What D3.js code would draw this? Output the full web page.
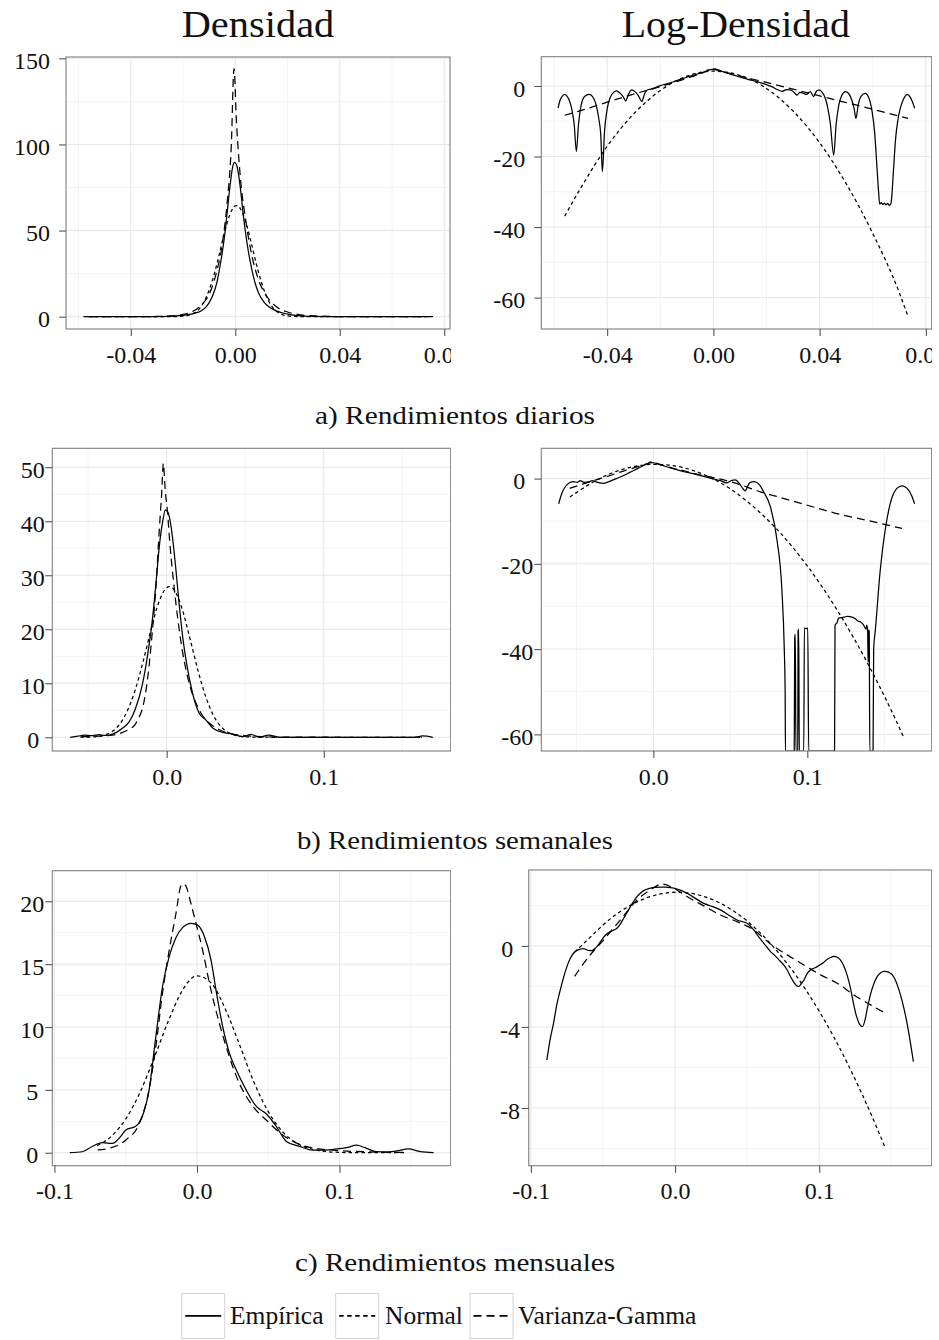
<!DOCTYPE html>
<html>
<head>
<meta charset="utf-8">
<script src="https://cdn.jsdelivr.net/npm/d3@7"></script>
<style>
  body { margin: 0; background: #fff; }
  svg { display: block; }
  text { font-family: "Liberation Serif", "Times New Roman", serif; fill: #111; }
</style>
</head>
<body>
<svg id="chart" width="939" height="1340"></svg>
<script>
/*
 * Densidad / Log-Densidad de rendimientos (diarios, semanales, mensuales)
 * Empírica vs Normal vs Varianza-Gamma
 */

//-------------------------------
// Data: [x, y] pairs

// a) diarios - densidad
var diarioDensEmp = [[-0.0581,0],[-0.05,0],[-0.04,0.02],[-0.03,0.1],[-0.024,0.35],[-0.02,0.8],[-0.016,1.8],[-0.013,3.5],[-0.011,6],[-0.009,11],[-0.007,20],[-0.006,28],[-0.005,37],[-0.004,48],[-0.003,62],[-0.002,76],[-0.001,87],[-0.0004,89.6],[0.0004,88.5],[0.0012,83],[0.002,74],[0.003,60],[0.004,48],[0.005,38],[0.006,30],[0.007,23],[0.008,17.5],[0.009,13.5],[0.011,8.5],[0.013,5.6],[0.016,3.2],[0.02,1.5],[0.025,0.5],[0.03,0.2],[0.04,0.05],[0.05,0.02],[0.06,0.01],[0.0757,0]];
var diarioDensNorm = [[-0.056,0],[-0.03,0],[-0.024,0.03],[-0.02,0.28],[-0.018,0.8],[-0.016,1.9],[-0.014,4.1],[-0.012,8.5],[-0.01,15.5],[-0.008,25],[-0.006,37],[-0.004,49.6],[-0.002,59.5],[0,64.3],[0.001,64.5],[0.002,62.5],[0.004,55],[0.006,43.5],[0.008,31],[0.01,20],[0.012,11.6],[0.014,6],[0.016,2.8],[0.018,1.2],[0.02,0.46],[0.024,0.05],[0.03,0],[0.0733,0]];
var diarioDensVG = [[-0.056,0],[-0.04,0.01],[-0.03,0.12],[-0.025,0.4],[-0.02,1.3],[-0.017,2.6],[-0.015,4.2],[-0.0125,7.5],[-0.01,13],[-0.0075,24],[-0.005,42],[-0.003,68],[-0.0015,100],[-0.0005,144],[0.0005,112],[0.002,80],[0.004,56],[0.006,38],[0.009,21],[0.012,12],[0.016,5.5],[0.02,2.7],[0.025,1.1],[0.03,0.45],[0.04,0.08],[0.05,0.01],[0.0733,0]];

// a) diarios - log-densidad
var diarioLogEmp = [[-0.0585,-6.3],[-0.0578,-4.2],[-0.0568,-2.8],[-0.056,-2.4],[-0.0552,-2.8],[-0.0542,-4.2],[-0.0532,-7],[-0.0524,-11],[-0.0516,-18.6],[-0.0508,-11],[-0.0498,-5.5],[-0.0485,-3.0],[-0.0468,-2.4],[-0.0455,-3.0],[-0.0443,-5.0],[-0.0432,-9],[-0.0424,-14],[-0.0418,-24.3],[-0.041,-13],[-0.04,-6.5],[-0.0388,-3.2],[-0.0376,-1.8],[-0.0365,-1.4],[-0.0352,-2.0],[-0.034,-3.0],[-0.033,-4.2],[-0.032,-2.4],[-0.0308,-1.1],[-0.0295,-1.6],[-0.0282,-2.8],[-0.027,-4.4],[-0.0258,-2.0],[-0.0245,-1.0],[-0.0235,-0.9],[-0.022,-0.5],[-0.02,0.1],[-0.018,0.5],[-0.015,1.2],[-0.012,2.0],[-0.009,2.7],[-0.006,3.4],[-0.003,4.1],[-0.0005,4.7],[0.002,4.4],[0.005,3.7],[0.008,3.0],[0.011,2.3],[0.014,1.7],[0.017,1.1],[0.02,0.4],[0.022,-0.2],[0.024,-1.0],[0.026,-1.5],[0.0275,-1.0],[0.029,-1.1],[0.0305,-1.9],[0.0315,-2.6],[0.0325,-1.8],[0.034,-2.1],[0.035,-2.4],[0.0365,-1.6],[0.0377,-3.0],[0.0388,-1.5],[0.0398,-1.1],[0.041,-1.8],[0.042,-3.2],[0.043,-6],[0.044,-10.5],[0.0453,-19.6],[0.0462,-11],[0.0472,-5.5],[0.0484,-2.6],[0.0497,-1.6],[0.051,-2.2],[0.0522,-4.2],[0.053,-6.5],[0.0537,-9.2],[0.0545,-5.5],[0.0557,-2.8],[0.0572,-2.1],[0.0585,-3.3],[0.0597,-7],[0.0607,-13],[0.0615,-22],[0.0622,-30],[0.0626,-33.5],[0.0632,-33.1],[0.0638,-33.6],[0.0644,-33.2],[0.065,-33.7],[0.0656,-33.3],[0.0662,-33.8],[0.0668,-33.5],[0.0672,-31],[0.0678,-24],[0.0686,-15],[0.0695,-9.5],[0.0705,-6],[0.0718,-3.4],[0.073,-2.4],[0.0742,-3.3],[0.075,-4.6],[0.0758,-6.3]];
var diarioLogNorm = [[-0.056,-36.9],[-0.05,-29],[-0.04,-17.1],[-0.03,-7.9],[-0.02,-1.3],[-0.01,2.8],[0,4.2],[0.01,3.0],[0.02,-0.7],[0.03,-7.1],[0.04,-16.1],[0.05,-27.7],[0.06,-41.8],[0.07,-58.6],[0.0733,-65.4]];
var diarioLogVG = [[-0.056,-8.3],[-0.05,-7.0],[-0.04,-4.6],[-0.03,-2.3],[-0.02,-0.2],[-0.01,2.2],[-0.004,3.7],[-0.0005,4.95],[0.004,4.0],[0.01,2.8],[0.02,1.0],[0.03,-0.9],[0.04,-2.8],[0.05,-4.7],[0.06,-6.6],[0.0733,-9.2]];

// b) semanales - densidad
var semanalDensEmp = [[-0.0614,0],[-0.0565,0.2],[-0.0524,0.4],[-0.048,0.3],[-0.0429,0.5],[-0.04,0.35],[-0.0365,0.4],[-0.032,0.9],[-0.028,1.7],[-0.0238,2.9],[-0.02,5.2],[-0.0153,10],[-0.012,15.5],[-0.0089,22.3],[-0.0065,29.5],[-0.0047,35.3],[-0.0025,40],[-0.0008,42.1],[0.001,41.5],[0.0028,39],[0.0045,35],[0.0059,31],[0.008,24.5],[0.0102,18.6],[0.0128,13.5],[0.0155,9.4],[0.018,6.5],[0.0208,4.4],[0.025,3.2],[0.0293,1.7],[0.0357,0.9],[0.042,0.6],[0.0484,0.1],[0.0537,0.55],[0.059,0.02],[0.065,0.4],[0.0718,0],[0.1,0],[0.158,0],[0.163,0.25],[0.1694,0]];
var semanalDensNorm = [[-0.055,0.03],[-0.05,0.04],[-0.045,0.13],[-0.04,0.39],[-0.035,1.0],[-0.03,2.38],[-0.025,4.9],[-0.02,8.8],[-0.015,14],[-0.01,19.9],[-0.005,25],[0,27.7],[0.0017,27.9],[0.005,27.2],[0.01,23.6],[0.015,18.1],[0.02,12.3],[0.025,7.4],[0.03,3.9],[0.035,1.85],[0.04,0.77],[0.05,0.09],[0.06,0.01],[0.08,0],[0.1626,0]];
var semanalDensVG = [[-0.0543,0.1],[-0.048,0.13],[-0.043,0.2],[-0.038,0.3],[-0.032,0.55],[-0.028,0.9],[-0.0238,1.5],[-0.02,2.4],[-0.0174,3.8],[-0.015,5.8],[-0.013,9],[-0.011,13.8],[-0.009,20],[-0.0068,27.9],[-0.0047,38.4],[-0.0032,45],[-0.0021,50.7],[-0.001,46],[0.0006,41.5],[0.002,36],[0.0038,30.4],[0.006,24.5],[0.008,19.9],[0.01,16],[0.0123,12.5],[0.015,9.3],[0.0187,6.3],[0.022,4.4],[0.025,3.2],[0.03,2],[0.0335,1.4],[0.042,0.6],[0.05,0.3],[0.06,0.12],[0.07,0.05],[0.09,0.01],[0.1615,0]];

// b) semanales - log-densidad (-Infinity = log(0), drawn at the panel bottom)
var semanalLogEmp = [[-0.0615,-5.9],[-0.0595,-3.5],[-0.057,-1.8],[-0.0545,-1.0],[-0.052,-0.7],[-0.0495,-0.9],[-0.0474,-0.5],[-0.045,-0.9],[-0.042,-0.8],[-0.0398,-0.5],[-0.0377,-0.7],[-0.035,-1.0],[-0.0323,-1.1],[-0.028,-0.6],[-0.024,0.0],[-0.02,0.6],[-0.015,1.5],[-0.01,2.4],[-0.005,3.3],[-0.0009,3.75],[0.005,3.2],[0.01,2.6],[0.015,2.1],[0.02,1.6],[0.025,1.2],[0.0327,0.5],[0.038,0.0],[0.0435,-0.5],[0.0475,-1.0],[0.0505,-0.5],[0.0532,-0.3],[0.0555,-1.0],[0.0585,-2.5],[0.0597,-2.9],[0.061,-2.0],[0.0625,-1.0],[0.0655,-0.7],[0.069,-1.5],[0.0716,-3.1],[0.076,-6.6],[0.0803,-14.4],[0.0835,-26.2],[0.085,-39.5],[0.0856,-50],[0.0858,-Infinity],[0.0915,-Infinity],[0.0918,-37.5],[0.0922,-36.5],[0.0926,-Infinity],[0.0938,-Infinity],[0.094,-35.8],[0.0944,-35.4],[0.0948,-Infinity],[0.0977,-Infinity],[0.0981,-35],[0.0992,-35.2],[0.1003,-35.1],[0.1009,-Infinity],[0.1177,-Infinity],[0.118,-34.4],[0.1193,-33.8],[0.1203,-32.8],[0.1222,-32.6],[0.124,-32.5],[0.126,-32.3],[0.128,-32.4],[0.131,-32.8],[0.1328,-33.4],[0.1344,-33.6],[0.1365,-34.3],[0.1381,-35.3],[0.1387,-34.4],[0.1392,-36],[0.1395,-43],[0.1398,-35.5],[0.1402,-35.8],[0.1406,-Infinity],[0.1427,-Infinity],[0.1431,-40],[0.1442,-35.5],[0.1474,-21.4],[0.1506,-12],[0.1539,-5.8],[0.1582,-2.3],[0.1615,-1.7],[0.1658,-2.7],[0.168,-4.2],[0.1697,-5.9]];
var semanalLogNorm = [[-0.0543,-4.3],[-0.05,-3.3],[-0.04,-1.0],[-0.03,0.85],[-0.02,2.17],[-0.01,2.99],[0,3.32],[0.01,3.16],[0.02,2.5],[0.03,1.35],[0.04,-0.3],[0.05,-2.4],[0.06,-5.1],[0.07,-8.2],[0.08,-11.8],[0.09,-15.9],[0.1,-20.5],[0.11,-25.6],[0.12,-31.2],[0.13,-37.3],[0.14,-43.9],[0.15,-51],[0.16,-58.6],[0.1626,-60.7]];
var semanalLogVG = [[-0.0543,-2.3],[-0.045,-1.2],[-0.04,-0.6],[-0.03,0.5],[-0.02,1.7],[-0.01,2.8],[-0.004,3.5],[-0.0015,3.9],[0.005,3.2],[0.01,2.7],[0.02,1.8],[0.03,0.9],[0.0457,-0.3],[0.06,-1.9],[0.0695,-3.1],[0.08,-4.2],[0.0976,-6.0],[0.119,-8.2],[0.14,-9.9],[0.1615,-11.7]];

// c) mensuales - densidad
var mensualDensEmp = [[-0.0892,0],[-0.0805,0.08],[-0.0735,0.5],[-0.0664,0.8],[-0.0594,0.74],[-0.0535,1.3],[-0.05,1.8],[-0.043,2.1],[-0.0383,2.9],[-0.0336,5.0],[-0.0289,9.2],[-0.0242,13.2],[-0.0195,15.6],[-0.0148,17.1],[-0.0101,17.9],[-0.0042,18.25],[0.0005,18.1],[0.0052,17.2],[0.0099,15.3],[0.0134,12.9],[0.0181,10.0],[0.0228,7.9],[0.0275,6.6],[0.0345,5.0],[0.0415,3.7],[0.0486,3.1],[0.0556,2.1],[0.0627,0.9],[0.0721,0.5],[0.0815,0.2],[0.0908,0.2],[0.0979,0.3],[0.1049,0.4],[0.112,0.6],[0.1178,0.4],[0.126,0.08],[0.133,0.05],[0.1401,0.15],[0.1484,0.3],[0.1566,0.08],[0.166,0]];
var mensualDensNorm = [[-0.07,0.57],[-0.06,1.32],[-0.05,2.68],[-0.04,4.79],[-0.03,7.56],[-0.02,10.5],[-0.01,12.96],[0,14.07],[0.01,13.49],[0.02,11.4],[0.03,8.55],[0.04,5.6],[0.05,3.27],[0.06,1.68],[0.07,0.76],[0.08,0.3],[0.09,0.1],[0.1,0.03],[0.12,0],[0.146,0]];
var mensualDensVG = [[-0.0697,0.22],[-0.0617,0.35],[-0.05,1.0],[-0.0406,2.3],[-0.0336,5.0],[-0.0289,8.4],[-0.0242,12.7],[-0.0195,16.1],[-0.0148,19.0],[-0.0113,21.2],[-0.0094,21.4],[-0.0077,21.2],[-0.0042,19.8],[-0.0007,18.25],[0.004,16.1],[0.0087,13.5],[0.0157,10.3],[0.0228,7.6],[0.0298,5.5],[0.0392,3.7],[0.0486,2.6],[0.0603,1.4],[0.0721,0.66],[0.0838,0.34],[0.0955,0.2],[0.119,0.08],[0.1468,0.03]];

// c) mensuales - log-densidad
var mensualLogEmp = [[-0.0889,-5.63],[-0.0866,-4.6],[-0.0843,-3.82],[-0.082,-2.9],[-0.0796,-2.17],[-0.0773,-1.55],[-0.075,-1.02],[-0.0727,-0.62],[-0.0704,-0.36],[-0.068,-0.22],[-0.0657,-0.16],[-0.064,-0.13],[-0.0623,-0.16],[-0.06,-0.22],[-0.0576,-0.23],[-0.056,-0.15],[-0.0542,-0.03],[-0.0518,0.2],[-0.0495,0.43],[-0.0472,0.6],[-0.0449,0.71],[-0.0426,0.78],[-0.0403,0.87],[-0.038,1.08],[-0.0356,1.37],[-0.0333,1.65],[-0.031,1.94],[-0.0287,2.2],[-0.0264,2.44],[-0.0241,2.6],[-0.0218,2.73],[-0.0195,2.8],[-0.0171,2.85],[-0.0137,2.89],[-0.0102,2.9],[-0.0067,2.9],[-0.0032,2.88],[0.0014,2.81],[0.0049,2.72],[0.0083,2.6],[0.0141,2.35],[0.0199,2.1],[0.0257,1.95],[0.0315,1.78],[0.0373,1.52],[0.043,1.28],[0.05,1.12],[0.0546,0.79],[0.058,0.45],[0.0616,0.13],[0.0662,-0.28],[0.0696,-0.5],[0.0731,-0.77],[0.0755,-0.95],[0.0778,-1.19],[0.08,-1.5],[0.0824,-1.8],[0.0845,-1.97],[0.0859,-2.0],[0.0876,-1.85],[0.0894,-1.68],[0.0917,-1.35],[0.094,-1.19],[0.0963,-1.1],[0.0986,-1.02],[0.1009,-0.92],[0.1032,-0.8],[0.1056,-0.66],[0.1079,-0.57],[0.1102,-0.52],[0.1125,-0.56],[0.1148,-0.7],[0.1171,-1.0],[0.1194,-1.45],[0.1217,-2.1],[0.1235,-2.75],[0.1252,-3.3],[0.1275,-3.8],[0.1299,-3.98],[0.1316,-3.7],[0.1333,-3.1],[0.1357,-2.35],[0.138,-1.84],[0.1403,-1.5],[0.1426,-1.32],[0.1447,-1.25],[0.1468,-1.27],[0.149,-1.33],[0.1507,-1.43],[0.153,-1.72],[0.1553,-2.17],[0.1576,-2.75],[0.16,-3.49],[0.1626,-4.5],[0.1653,-5.71]];
var mensualLogNorm = [[-0.0697,-0.3],[-0.06,0.35],[-0.05,1.03],[-0.04,1.6],[-0.03,2.04],[-0.02,2.37],[-0.01,2.57],[0,2.65],[0.01,2.61],[0.02,2.44],[0.03,2.16],[0.04,1.75],[0.05,1.23],[0.06,0.58],[0.07,-0.19],[0.08,-1.08],[0.09,-2.09],[0.1,-3.23],[0.11,-4.48],[0.12,-5.86],[0.13,-7.36],[0.14,-8.98],[0.146,-10.0]];
var mensualLogVG = [[-0.0697,-1.5],[-0.0595,-0.5],[-0.0495,0.3],[-0.038,1.28],[-0.0264,2.27],[-0.0171,2.77],[-0.009,3.06],[-0.0009,2.85],[0.0083,2.44],[0.0199,1.98],[0.0315,1.53],[0.043,1.2],[0.0546,0.79],[0.0662,0.1],[0.0778,-0.44],[0.0894,-0.94],[0.1009,-1.43],[0.1125,-1.84],[0.1241,-2.42],[0.1356,-2.91],[0.1468,-3.36]];

// Breaks
var xTicksDiario = [-0.04, 0, 0.04, 0.08];
var xMinorDiario = [-0.06, -0.02, 0.02, 0.06];
var xTicksLargo = [-0.1, 0, 0.1];
var xMinorLargo = [-0.05, 0.05, 0.15];
var xTicksSemanal = [0, 0.1];

var yTicksDiarioDens = [0, 50, 100, 150];
var yMinorDiarioDens = [25, 75, 125];
var yTicksLog60 = [-60, -40, -20, 0];
var yMinorLog60 = [-50, -30, -10];
var yTicksSemanalDens = [0, 10, 20, 30, 40, 50];
var yMinorSemanalDens = [5, 15, 25, 35, 45];
var yTicksMensualDens = [0, 5, 10, 15, 20];
var yMinorMensualDens = [2.5, 7.5, 12.5, 17.5];
var yTicksMensualLog = [-8, -4, 0];
var yMinorMensualLog = [-10, -6, -2, 2];

var titles = ['Densidad', 'Log-Densidad'];
var captions = ['a) Rendimientos diarios', 'b) Rendimientos semanales', 'c) Rendimientos mensuales'];
var seriesNames = ['Empírica', 'Normal', 'Varianza-Gamma'];

//-------------------------------
// Layout / styles

var svg = d3.select('#chart');
var defs = svg.append('defs');
var loc = d3.formatLocale({decimal: '.', thousands: ',', grouping: [3], currency: ['', ''], minus: '-'});

var lineDash = [null, '3.5,3', '8,5'];
var legendDash = [null, '4.5,3.5', '8,5'];

// column clip (tick labels cut at the right edge of each sub figure, as in the original)
defs.append('clipPath').attr('id', 'colL').append('rect').attr('x', 0).attr('y', 0).attr('width', 451).attr('height', 1340);
defs.append('clipPath').attr('id', 'colR').append('rect').attr('x', 470).attr('y', 0).attr('width', 462).attr('height', 1340);

var panels = [
  {key: 'p1', col: 'colL', box: [66, 57, 450, 329], x: [-0.0648, 0.0822], y: [-7.15, 150.76],
    xt: xTicksDiario, xm: xMinorDiario, yt: yTicksDiarioDens, ym: yMinorDiarioDens, xf: '.2f', yOff: [16, 16],
    series: [diarioDensEmp, diarioDensNorm, diarioDensVG]},
  {key: 'p2', col: 'colR', box: [541.3, 56.7, 931.7, 329], x: [-0.0648, 0.0822], y: [-68.9, 8.3],
    xt: xTicksDiario, xm: xMinorDiario, yt: yTicksLog60, ym: yMinorLog60, xf: '.2f', yOff: [16, 16],
    series: [diarioLogEmp, diarioLogNorm, diarioLogVG]},
  {key: 'p3', col: 'colL', box: [52.3, 448.3, 450.7, 751], x: [-0.0728, 0.1808], y: [-2.54, 53.5],
    xt: xTicksSemanal, xm: xMinorLargo, yt: yTicksSemanalDens, ym: yMinorSemanalDens, xf: '.1f', yOff: [13, 7.5],
    series: [semanalDensEmp, semanalDensNorm, semanalDensVG]},
  {key: 'p4', col: 'colR', box: [541.3, 448.3, 931.7, 751], x: [-0.0728, 0.1808], y: [-63.9, 7.1],
    xt: xTicksSemanal, xm: xMinorLargo, yt: yTicksLog60, ym: yMinorLog60, xf: '.1f', yOff: [16, 8],
    series: [semanalLogEmp, semanalLogNorm, semanalLogVG]},
  {key: 'p5', col: 'colL', box: [52.3, 870.7, 450.7, 1165.7], x: [-0.1015, 0.178], y: [-1.03, 22.43],
    xt: xTicksLargo, xm: xMinorLargo, yt: yTicksMensualDens, ym: yMinorMensualDens, xf: '.1f', yOff: [14, 8],
    series: [mensualDensEmp, mensualDensNorm, mensualDensVG]},
  {key: 'p6', col: 'colR', box: [528.7, 870, 931.7, 1165.7], x: [-0.1015, 0.178], y: [-10.85, 3.75],
    xt: xTicksLargo, xm: xMinorLargo, yt: yTicksMensualLog, ym: yMinorMensualLog, xf: '.1f', yOff: [15.4, 8.7],
    series: [mensualLogEmp, mensualLogNorm, mensualLogVG]}
];

function drawPanel(p) {
  var b = p.box;
  var x = d3.scaleLinear().domain(p.x).range([b[0], b[2]]);
  var y = d3.scaleLinear().domain(p.y).range([b[3], b[1]]).clamp(true);
  var g = svg.append('g').attr('clip-path', 'url(#' + p.col + ')');

  defs.append('clipPath').attr('id', 'clip-' + p.key).append('rect')
    .attr('x', b[0]).attr('y', b[1]).attr('width', b[2] - b[0]).attr('height', b[3] - b[1]);

  var grid = g.append('g').attr('clip-path', 'url(#clip-' + p.key + ')');
  // minor grid
  grid.selectAll('.vmin').data(p.xm).enter().append('line')
    .attr('x1', function (d) { return x(d); }).attr('x2', function (d) { return x(d); })
    .attr('y1', b[1]).attr('y2', b[3])
    .style('stroke', '#f4f4f4').style('stroke-width', 1);
  grid.selectAll('.hmin').data(p.ym).enter().append('line')
    .attr('y1', function (d) { return y(d); }).attr('y2', function (d) { return y(d); })
    .attr('x1', b[0]).attr('x2', b[2])
    .style('stroke', '#f4f4f4').style('stroke-width', 1);
  // major grid
  grid.selectAll('.vmaj').data(p.xt).enter().append('line')
    .attr('x1', function (d) { return x(d); }).attr('x2', function (d) { return x(d); })
    .attr('y1', b[1]).attr('y2', b[3])
    .style('stroke', '#e6e6e6').style('stroke-width', 1);
  grid.selectAll('.hmaj').data(p.yt).enter().append('line')
    .attr('y1', function (d) { return y(d); }).attr('y2', function (d) { return y(d); })
    .attr('x1', b[0]).attr('x2', b[2])
    .style('stroke', '#e6e6e6').style('stroke-width', 1);

  // curves
  var line = d3.line()
    .x(function (d) { return x(d[0]); })
    .y(function (d) { return y(d[1]); })
    .curve(d3.curveMonotoneX);

  grid.selectAll('.serie').data(p.series).enter().append('path')
    .attr('d', line)
    .style('fill', 'none')
    .style('stroke', '#000')
    .style('stroke-width', 1.25)
    .style('stroke-dasharray', function (d, i) { return lineDash[i]; });

  // border
  g.append('rect')
    .attr('x', b[0]).attr('y', b[1]).attr('width', b[2] - b[0]).attr('height', b[3] - b[1])
    .style('fill', 'none').style('stroke', '#7f7f7f').style('stroke-width', 1.1);

  // axes
  var xf = loc.format(p.xf), yf = loc.format('d');
  var xAxis = g.append('g').attr('transform', 'translate(0,' + b[3] + ')')
    .call(d3.axisBottom(x).tickValues(p.xt).tickFormat(xf).tickSize(7).tickPadding(9.5));
  var yAxis = g.append('g').attr('transform', 'translate(' + b[0] + ',0)')
    .call(d3.axisLeft(y).tickValues(p.yt).tickFormat(yf).tickSize(7));

  [xAxis, yAxis].forEach(function (a) {
    a.select('.domain').remove();
    a.selectAll('.tick line').style('stroke', '#555').style('stroke-width', 1.1);
    a.selectAll('text')
      .style('font-family', '"Liberation Serif", serif')
      .style('font-size', '24px')
      .style('fill', '#111');
  });
  yAxis.selectAll('text')
    .attr('dy', '0.42em')
    .attr('x', function (d) { return -(yf(d).length === 1 ? p.yOff[0] : p.yOff[1]); });
}

panels.forEach(drawPanel);

// column titles
var titleX = [258, 735.8], titleW = [152.6, 228.3];
svg.selectAll('.titulo').data(titles).enter().append('text')
  .attr('x', function (d, i) { return titleX[i]; })
  .attr('y', 37.3)
  .attr('text-anchor', 'middle')
  .attr('textLength', function (d, i) { return titleW[i]; })
  .attr('lengthAdjust', 'spacingAndGlyphs')
  .style('font-size', '37.5px')
  .text(function (d) { return d; });

// row captions
var captionY = [424.3, 849, 1271.3], captionW = [280, 316, 320];
svg.selectAll('.caption').data(captions).enter().append('text')
  .attr('x', 455)
  .attr('y', function (d, i) { return captionY[i]; })
  .attr('text-anchor', 'middle')
  .attr('textLength', function (d, i) { return captionW[i]; })
  .attr('lengthAdjust', 'spacingAndGlyphs')
  .style('font-size', '26px')
  .text(function (d) { return d; });

// legend
var keyX = [181.7, 335.7, 470], labelX = [230, 385, 518];
var leg = svg.append('g').attr('class', 'legend');
var item = leg.selectAll('.item').data(seriesNames).enter().append('g');
item.append('rect')
  .attr('x', function (d, i) { return keyX[i]; })
  .attr('y', 1293.5)
  .attr('width', 43).attr('height', 45)
  .style('fill', '#fff').style('stroke', '#d4d4d4').style('stroke-width', 1);
item.append('line')
  .attr('x1', function (d, i) { return keyX[i] + 3.5; })
  .attr('x2', function (d, i) { return keyX[i] + 39.5; })
  .attr('y1', 1315.8).attr('y2', 1315.8)
  .style('stroke', '#000').style('stroke-width', 1.7)
  .style('stroke-dasharray', function (d, i) { return legendDash[i]; });
item.append('text')
  .attr('x', function (d, i) { return labelX[i]; })
  .attr('y', 1324.3)
  .style('font-size', '25.5px')
  .text(function (d) { return d; });
</script>
</body>
</html>
